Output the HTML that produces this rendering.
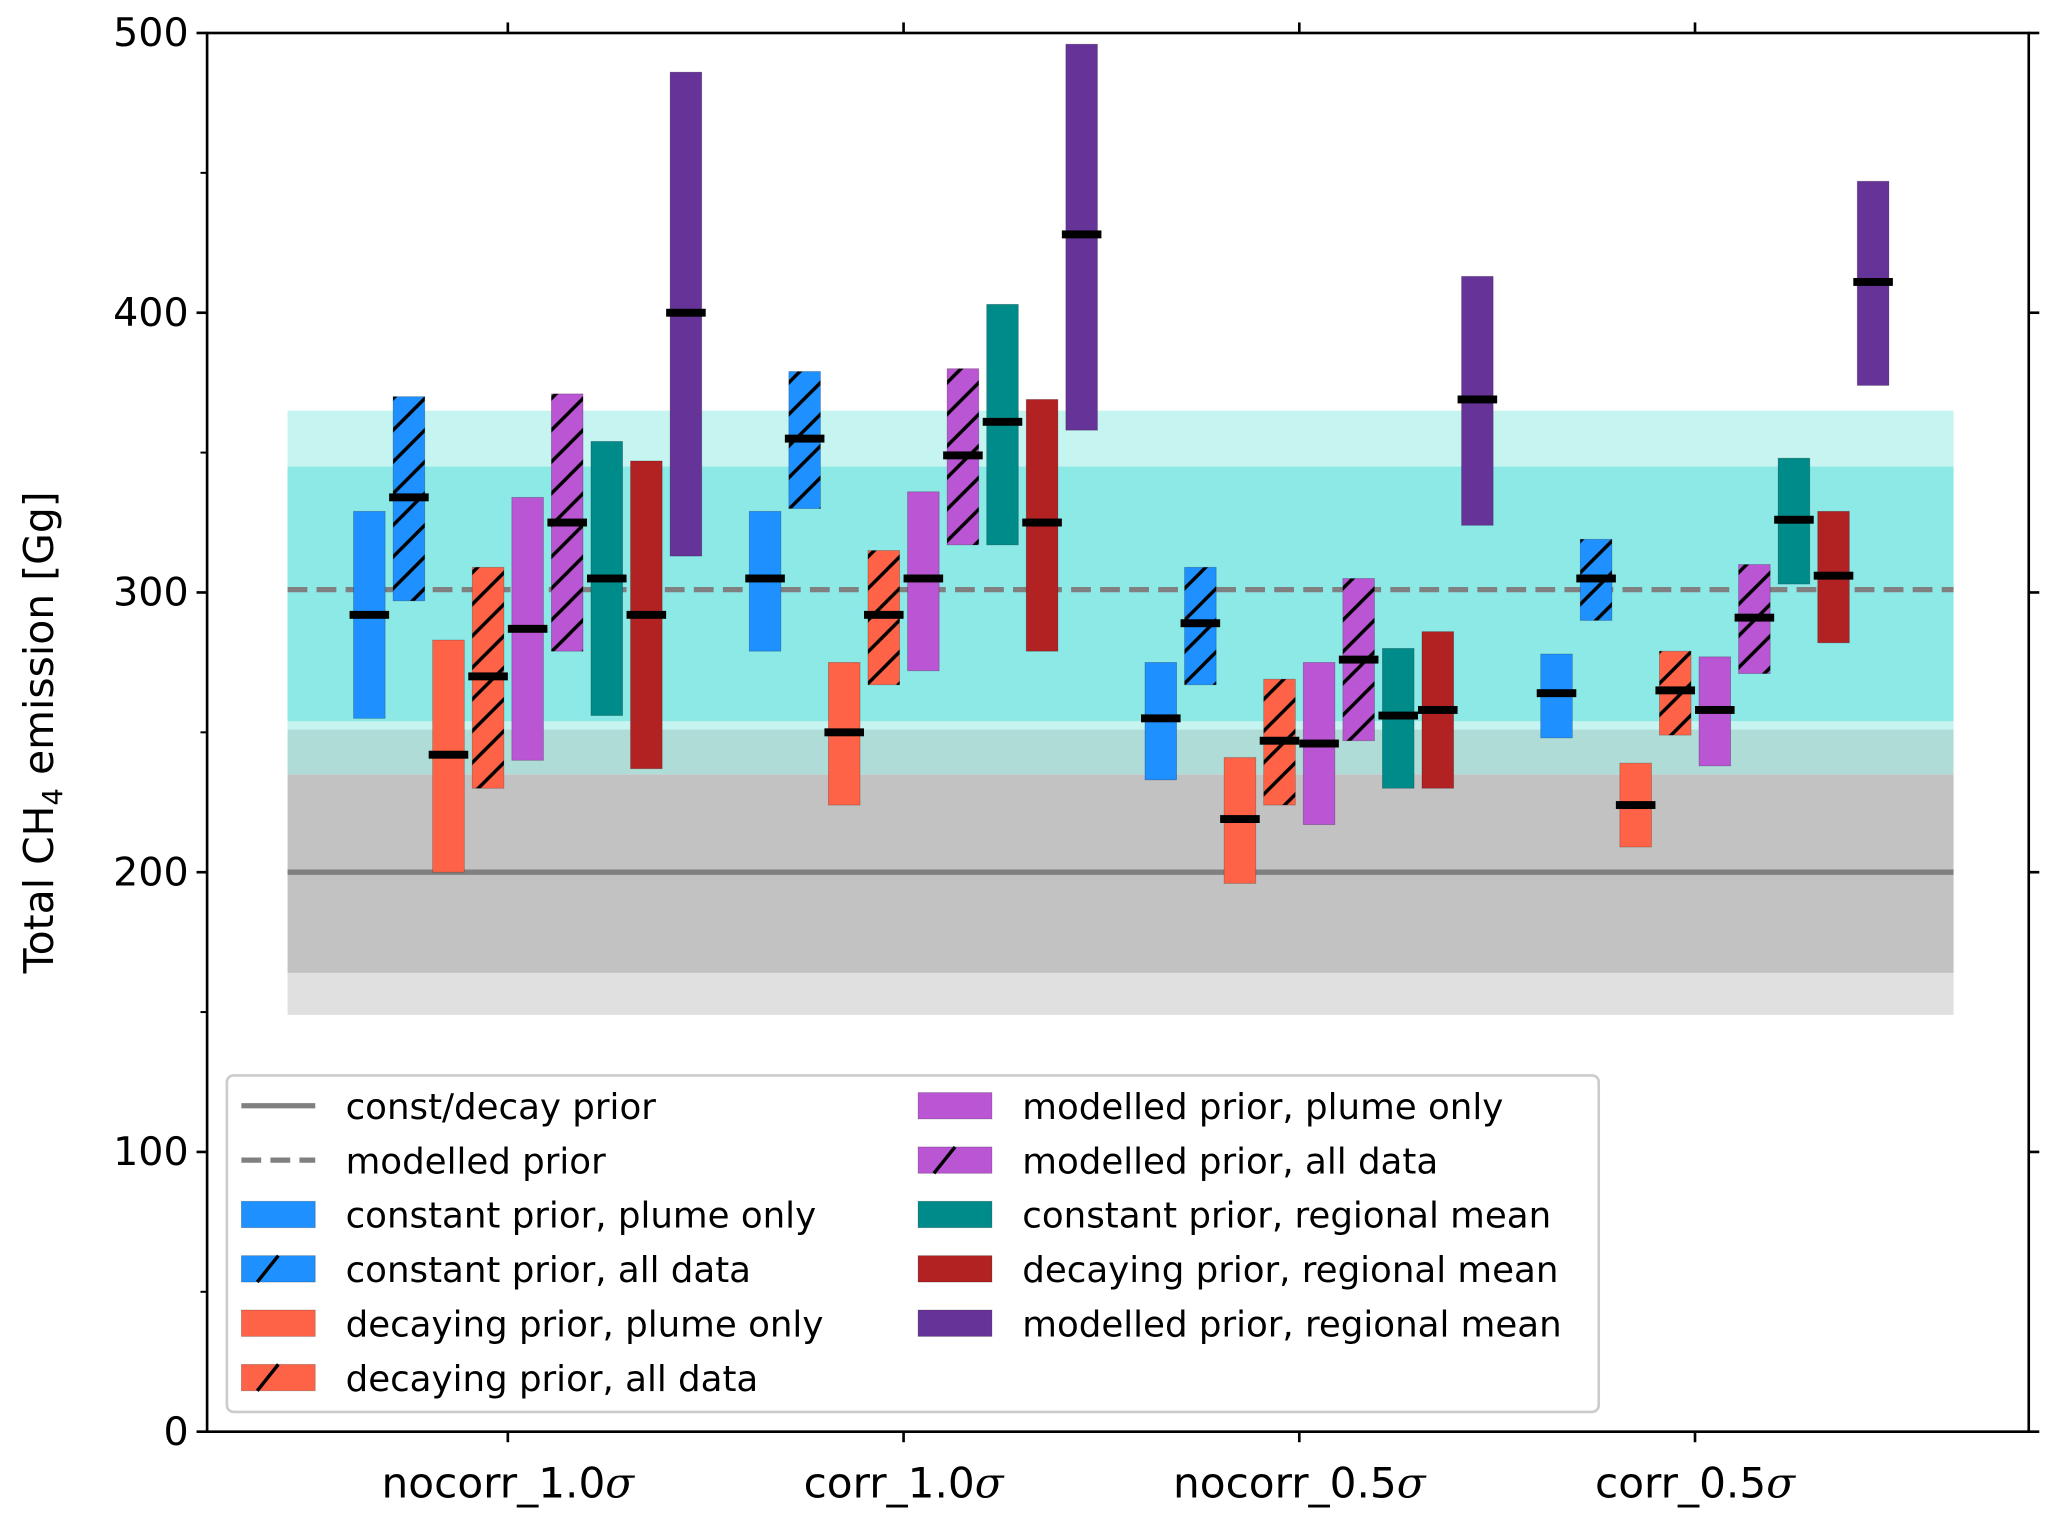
<!DOCTYPE html>
<html><head><meta charset="utf-8"><style>
html,body{margin:0;padding:0;background:#fff;}
svg{display:block;font-family:"DejaVu Sans","Liberation Sans",sans-serif;}
</style></head><body>
<svg id="chart" width="2067" height="1528" viewBox="0 0 1567 1158" preserveAspectRatio="none" xmlns="http://www.w3.org/2000/svg">
<defs>
<pattern id="hatch" patternUnits="userSpaceOnUse" width="24" height="24">
<line x1="0" y1="24" x2="24" y2="0" stroke="#000" stroke-width="2.6"/>
<line x1="-2" y1="2" x2="2" y2="-2" stroke="#000" stroke-width="2.6"/>
<line x1="22" y1="26" x2="26" y2="22" stroke="#000" stroke-width="2.6"/>
</pattern>
</defs>
<g id="bands"></g>
<g id="lines"></g>
<g id="bars"></g>
<g id="axes"></g>
<g id="legend"></g>
</svg>
<script>
const categories = ["nocorr_1.0", "corr_1.0", "nocorr_0.5", "corr_0.5"];
const seriesNames = ["constant prior, plume only","constant prior, all data","decaying prior, plume only","decaying prior, all data","modelled prior, plume only","modelled prior, all data","constant prior, regional mean","decaying prior, regional mean","modelled prior, regional mean"];
const lows = [
 [255,297,200,230,240,279,256,237,313],
 [279,330,224,267,272,317,317,279,358],
 [233,267,196,224,217,247,230,230,324],
 [248,290,209,249,238,271,303,282,374]];
const mids = [
 [292,334,242,270,287,325,305,292,400],
 [305,355,250,292,305,349,361,325,428],
 [255,289,219,247,246,276,256,258,369],
 [264,305,224,265,258,291,326,306,411]];
const highs = [
 [329,370,283,309,334,371,354,347,486],
 [329,379,275,315,336,380,403,369,496],
 [275,309,241,269,275,305,280,286,413],
 [278,319,239,279,277,310,348,329,447]];
const yTicks = [0,100,200,300,400,500];
const constPrior = 200, modelledPrior = 301;
const bandLevels = [149,164,235,251,254,345,365];

const colors=["#1e90ff","#1e90ff","#ff6347","#ff6347","#ba55d3","#ba55d3","#008b8b","#b22222","#663399"];
const hatched=[false,true,false,true,false,true,false,false,false];
const NS="http://www.w3.org/2000/svg";
const L=157,R=1538,T=25,B=1085;
const y=v=>B-(v/500)*(B-T);
const xc=(ci,si)=>385+300*ci-105+30*si;
function mk(tag,attrs,parent){const e=document.createElementNS(NS,tag);for(const k in attrs)e.setAttribute(k,attrs[k]);parent.appendChild(e);return e;}

const bands=document.getElementById('bands');
const bx0=218,bx1=1481;
const bandDefs=[[bandLevels[0],bandLevels[1],"#e0e0e0"],[bandLevels[1],bandLevels[2],"#c2c2c2"],[bandLevels[2],bandLevels[3],"#b0dcd8"],[bandLevels[3],bandLevels[6],"#c6f4f0"],[bandLevels[4],bandLevels[5],"#8ce9e6"]];
bandDefs.forEach(d=>{const r=mk('rect',{x:bx0,y:y(d[1]),width:bx1-bx0,height:y(d[0])-y(d[1]),fill:d[2]},bands);

});

const lines=document.getElementById('lines');
let l1=mk('line',{x1:bx0,x2:bx1,y1:y(constPrior),y2:y(constPrior),stroke:"#808080","stroke-width":4},lines);


let l2=mk('line',{x1:bx0,x2:bx1,y1:y(modelledPrior),y2:y(modelledPrior),stroke:"#808080","stroke-width":4,"stroke-dasharray":"15 7"},lines);



const bars=document.getElementById('bars');
categories.forEach((c,ci)=>{seriesNames.forEach((s,si)=>{
 const cx=xc(ci,si),w=24;
 const r=mk('rect',{x:cx-w/2,y:y(highs[ci][si]),width:w,height:y(lows[ci][si])-y(highs[ci][si]),fill:colors[si],stroke:"rgba(0,0,0,0.25)","stroke-width":0.6},bars);
 
 
 if(hatched[si]){const h=mk('rect',{x:cx-w/2,y:y(highs[ci][si]),width:w,height:y(lows[ci][si])-y(highs[ci][si]),fill:"url(#hatch)"},bars);
 
 }
 const m=mk('rect',{x:cx-15,y:y(mids[ci][si])-3,width:30,height:6,fill:"#000"},bars);
 
 
});});

const ax=document.getElementById('axes');
mk('rect',{x:L,y:T,width:R-L,height:B-T,fill:"none",stroke:"#000","stroke-width":2},ax);
yTicks.forEach(v=>{
 mk('line',{x1:L-8,x2:L,y1:y(v),y2:y(v),stroke:"#000","stroke-width":2},ax);
 mk('line',{x1:R,x2:R+8,y1:y(v),y2:y(v),stroke:"#000","stroke-width":2},ax);
 const t=mk('text',{x:L-14,y:y(v)+10,"text-anchor":"end","font-size":30,fill:"#000"},ax);
 t.textContent=v;
 
 
});
for(let i=0;i<5;i++){const v=50+100*i;mk('line',{x1:L-5,x2:L,y1:y(v),y2:y(v),stroke:"#000","stroke-width":1.5},ax);}
categories.forEach((c,ci)=>{const x=385+300*ci;
 mk('line',{x1:x,x2:x,y1:B,y2:B+8,stroke:"#000","stroke-width":2},ax);
 mk('line',{x1:x,x2:x,y1:T-8,y2:T,stroke:"#000","stroke-width":2},ax);
 const t=mk('text',{x:x,y:B+50,"text-anchor":"middle","font-size":32,fill:"#000"},ax);
 t.innerHTML=c+'<tspan font-style="italic" font-family="DejaVu Serif, serif">σ</tspan>';
 
 
});
const yl=mk('text',{x:0,y:0,transform:"translate(40,555) rotate(-90)","text-anchor":"middle","font-size":31,fill:"#000"},ax);
yl.innerHTML='Total CH<tspan font-size="21" dy="7">4</tspan><tspan dy="-7"> emission [Gg]</tspan>';



const lg=document.getElementById('legend');
mk('rect',{x:172,y:815,width:1040,height:255,rx:5,fill:"rgba(255,255,255,0.85)",stroke:"#ccc","stroke-width":2},lg);
const entries=[["line","const/decay prior"],["dash","modelled prior"],[0,""],[1,""],[2,""],[3,""],[4,""],[5,""],[6,""],[7,""],[8,""]];
entries.forEach((e,i)=>{
 const col=i<6?0:1,row=i<6?i:i-6;
 const hx=col?696:183,tx=col?775:262,cy=838+row*41.2;
 let label=e[1];
 if(e[0]==="line")mk('line',{x1:hx,x2:hx+56,y1:cy,y2:cy,stroke:"#808080","stroke-width":4},lg);
 else if(e[0]==="dash")mk('line',{x1:hx,x2:hx+56,y1:cy,y2:cy,stroke:"#808080","stroke-width":4,"stroke-dasharray":"15 7"},lg);
 else{const si=e[0];label=seriesNames[si];
  mk('rect',{x:hx,y:cy-10,width:56,height:20,fill:colors[si],stroke:"rgba(0,0,0,0.25)","stroke-width":0.6},lg);
  if(hatched[si])mk('line',{x1:hx+12,y1:cy+10,x2:hx+28,y2:cy-10,stroke:"#000","stroke-width":2.6},lg);}
 const t=mk('text',{x:tx,y:cy+10,"font-size":27,fill:"#000"},lg);
 t.textContent=label;
 
 
});
</script>
</body></html>
